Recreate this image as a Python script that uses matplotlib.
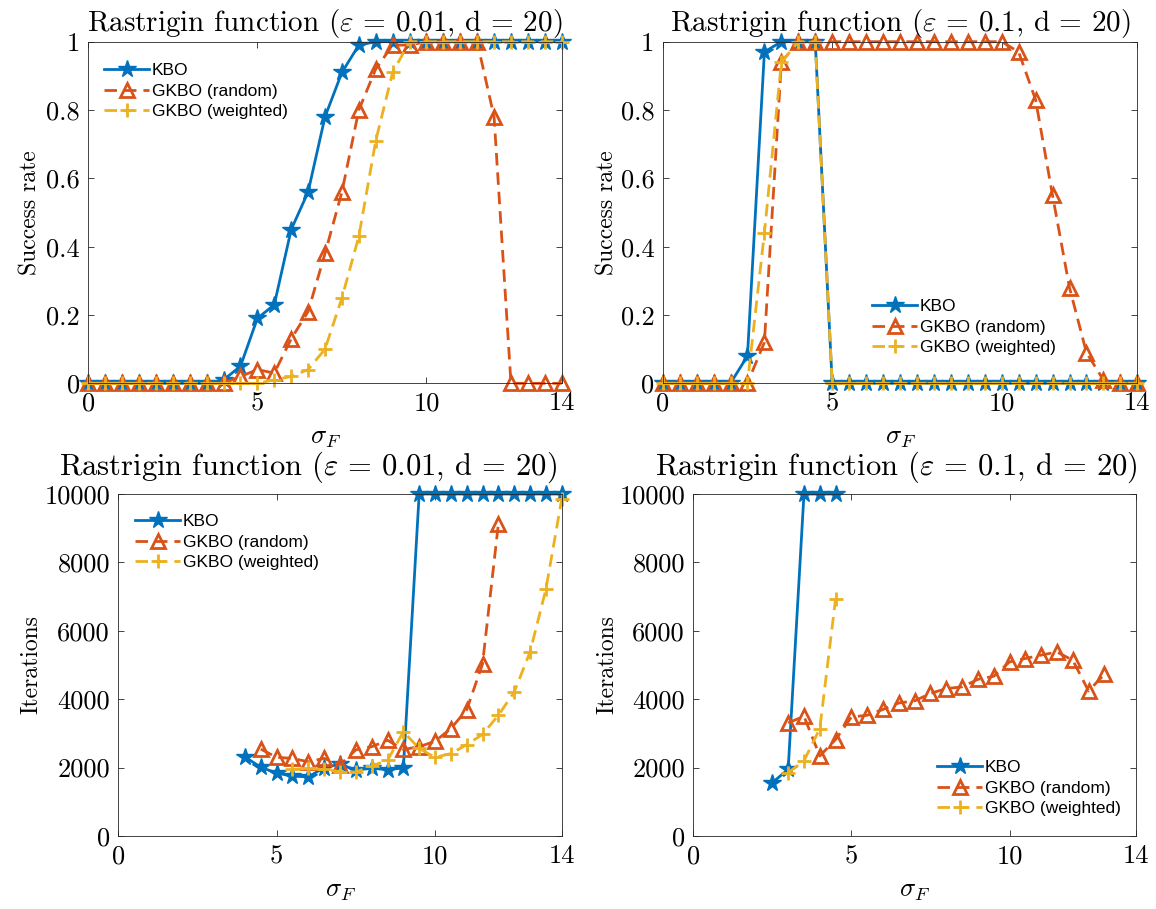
import numpy as np
import matplotlib
matplotlib.use("Agg")
import matplotlib.pyplot as plt

plt.rcParams['font.family'] = 'serif'
plt.rcParams['font.serif'] = ['cmr10']
plt.rcParams['mathtext.fontset'] = 'cm'
plt.rcParams['axes.formatter.use_mathtext'] = True

nan = np.nan
sigma = [0, 0.5, 1, 1.5, 2, 2.5, 3, 3.5, 4, 4.5, 5, 5.5, 6, 6.5, 7, 7.5, 8,
         8.5, 9, 9.5, 10, 10.5, 11, 11.5, 12, 12.5, 13, 13.5, 14]

# success rate, eps = 0.01
kbo_s1 = [0, 0, 0, 0, 0, 0, 0, 0, 0.01, 0.05, 0.19, 0.23, 0.45, 0.56, 0.78, 0.91,
          0.99, 1, 1, 1, 1, 1, 1, 1, 1, 1, 1, 1, 1]
rand_s1 = [0, 0, 0, 0, 0, 0, 0, 0, 0, 0.02, 0.04, 0.03, 0.13, 0.21, 0.38, 0.56,
           0.80, 0.92, 0.99, 0.99, 1, 1, 1, 1, 0.78, 0, 0, 0, 0]
wt_s1 = [0, 0, 0, 0, 0, 0, 0, 0, 0, 0, 0, 0.01, 0.02, 0.04, 0.10, 0.25,
         0.43, 0.71, 0.91, 1, 1, 1, 1, 1, 1, 1, 1, 1, 1]

# success rate, eps = 0.1
kbo_s2 = [0, 0, 0, 0, 0, 0.08, 0.97, 1, 1, 1, 0, 0, 0, 0, 0, 0, 0, 0, 0, 0,
          0, 0, 0, 0, 0, 0, 0, 0, 0]
rand_s2 = [0, 0, 0, 0, 0, 0, 0.12, 0.94, 1, 1, 1, 1, 1, 1, 1, 1, 1, 1, 1, 1,
           1, 0.97, 0.83, 0.55, 0.28, 0.09, 0.01, 0, 0]
wt_s2 = [0, 0, 0, 0, 0, 0, 0.44, 0.94, 1, 1, 0, 0, 0, 0, 0, 0, 0, 0, 0, 0,
         0, 0, 0, 0, 0, 0, 0, 0, 0]

# iterations, eps = 0.01
kbo_i1 = [nan] * 8 + [2310, 2010, 1840, 1750, 1730, 2000, 2100, 1930, 1980, 1940,
                      1990, 10000, 10000, 10000, 10000, 10000, 10000, 10000, 10000,
                      10000, 10000]
rand_i1 = [nan] * 9 + [2540, 2300, 2270, 2170, 2270, 2080, 2520, 2610, 2800, 2530,
                       2610, 2770, 3140, 3690, 5030, 9120] + [nan] * 4
wt_i1 = [nan] * 11 + [1950, 1975, 1950, 1880, 1870, 2050, 2210, 3050, 2560, 2300,
                      2410, 2670, 2970, 3530, 4210, 5380, 7210, 9850]

# iterations, eps = 0.1
kbo_i2 = [nan] * 5 + [1560, 1950, 10000, 10000, 10000] + [nan] * 19
rand_i2 = [nan] * 6 + [3310, 3500, 2340, 2820, 3480, 3530, 3700, 3890, 3950, 4170,
                       4310, 4360, 4580, 4670, 5090, 5190, 5290, 5380, 5140, 4240,
                       4730] + [nan] * 2
wt_i2 = [nan] * 6 + [1850, 2200, 3140, 6940] + [nan] * 19

labels = ['KBO', 'GKBO (random)', 'GKBO (weighted)']
c_blue = '#0072BD'
c_red = '#D95319'
c_yel = '#EDB120'


def draw(ax, ys, title, title_x, title_size, title_pad, ylabel, ylab_x, yticks,
         yticklabels, ymax, leg_xy):
    l1, = ax.plot(sigma, ys[0], '-', color=c_blue, lw=2, marker='*', ms=13,
                  clip_on=False)
    l2, = ax.plot(sigma, ys[1], '--', color=c_red, lw=2, marker='^', ms=10,
                  mfc='none', mew=2, dashes=(4.5, 2.5), clip_on=False)
    l3, = ax.plot(sigma, ys[2], '--', color=c_yel, lw=2, marker='+', ms=10,
                  mew=2, dashes=(4.5, 2.5), clip_on=False)
    ax.set_xlim(0, 14)
    ax.set_ylim(0, ymax)
    ax.set_xticks([0, 5, 10, 14])
    ax.set_xticklabels(['0', '5', '10', '14'])
    ax.set_yticks(yticks)
    ax.set_yticklabels(yticklabels)
    ax.tick_params(direction='in', top=True, right=True, length=4, width=0.6,
                   labelsize=19, pad=6, color='#262626')
    for s in ax.spines.values():
        s.set_color('#262626')
        s.set_linewidth(0.6)
    ax.set_title(title, fontsize=title_size, x=title_x, pad=title_pad)
    ax.set_ylabel(ylabel, fontsize=17)
    ax.yaxis.set_label_coords(ylab_x, 0.5)
    ax.set_xlabel(r'$\sigma_F$', fontsize=19, labelpad=8)
    ax.legend([l1, l2, l3], labels, loc='center left',
              bbox_to_anchor=leg_xy, bbox_transform=fig.transFigure,
              frameon=False, handlelength=2.6, handletextpad=0.15,
              labelspacing=0.3, borderpad=0, borderaxespad=0,
              prop={'family': 'Liberation Sans', 'size': 12.5})
    return ax


fig = plt.figure(figsize=(11.56, 9.09), dpi=100)
W, H = 1156, 909


def axes_px(left, top, right, bottom):
    return fig.add_axes([left / W, 1 - bottom / H, (right - left) / W, (bottom - top) / H])


ax1 = axes_px(88.3, 41.7, 561.7, 383.3)
ax2 = axes_px(662.7, 41.7, 1137.3, 383.3)
ax3 = axes_px(118.3, 494, 561.7, 836)
ax4 = axes_px(693.3, 494, 1136, 836)

s_ticks = [0, 0.2, 0.4, 0.6, 0.8, 1]
s_labels = ['0', '0.2', '0.4', '0.6', '0.8', '1']
i_ticks = [0, 2000, 4000, 6000, 8000, 10000]
i_labels = ['0', '2000', '4000', '6000', '8000', '10000']

t1 = r'Rastrigin function ($\varepsilon$ = 0.01, d = 20)'
t2 = r'Rastrigin function ($\varepsilon$ = 0.1, d = 20)'

draw(ax1, [kbo_s1, rand_s1, wt_s1], t1, 0.5, 21, 8, 'Success rate', -0.098,
     s_ticks, s_labels, 1, (104 / W, 1 - 91 / H))
draw(ax2, [kbo_s2, rand_s2, wt_s2], t2, 0.5, 21, 8, 'Success rate', -0.094,
     s_ticks, s_labels, 1, (872 / W, 1 - 327 / H))
draw(ax3, [kbo_i1, rand_i1, wt_i1], t1, 0.429, 22, 14, 'Iterations', -0.172,
     i_ticks, i_labels, 10000, (135 / W, 1 - 542 / H))
draw(ax4, [kbo_i2, rand_i2, wt_i2], t2, 0.459, 22, 14, 'Iterations', -0.170,
     i_ticks, i_labels, 10000, (937 / W, 1 - 788 / H))

fig.savefig('out.png', dpi=100)
